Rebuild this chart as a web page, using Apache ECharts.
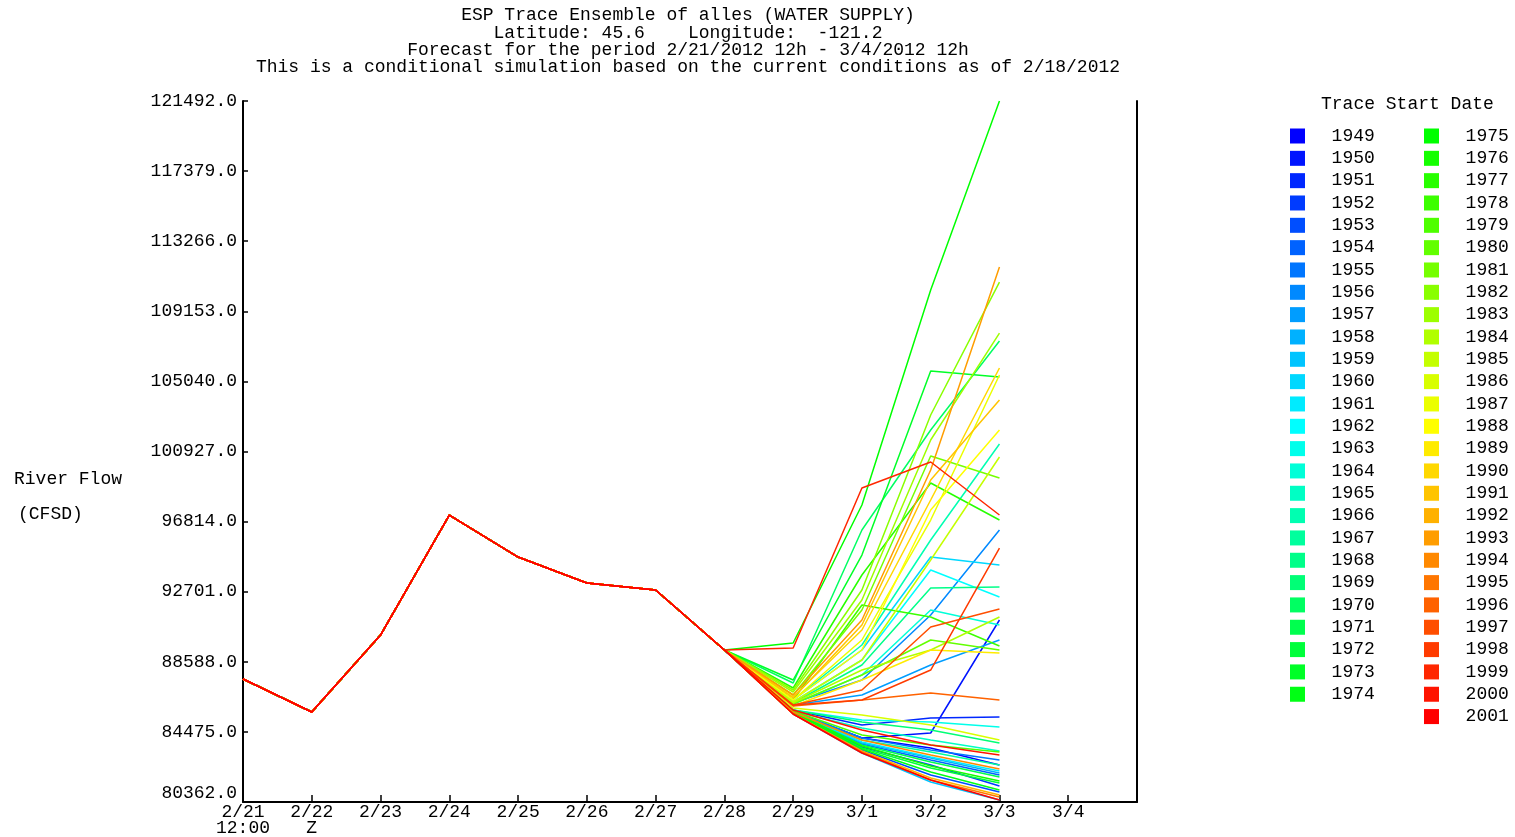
<!DOCTYPE html>
<html>
<head>
<meta charset="utf-8">
<script src="https://cdn.jsdelivr.net/npm/echarts@6/dist/echarts.min.js"></script>
<style>html,body{margin:0;padding:0;background:#fff}#c{width:1515px;height:837px}</style>
</head>
<body>
<div id="c"></div>
<script>
// ---- data ----
const dates = ['2/21','2/22','2/23','2/24','2/25','2/26','2/27','2/28','2/29','3/1','3/2','3/3','3/4'];
const dateSub = ['12:00','Z'];
const yTicks = [80362, 84475, 88588, 92701, 96814, 100927, 105040, 109153, 113266, 117379, 121492];
// observed / common part 2/21 .. 2/28
const observed = [87579, 85642, 90160, 97200, 94736, 93211, 92800, 89280];
const years = [1949,1950,1951,1952,1953,1954,1955,1956,1957,1958,1959,1960,1961,1962,1963,1964,1965,1966,1967,1968,1969,1970,1971,1972,1973,1974,1975,1976,1977,1978,1979,1980,1981,1982,1983,1984,1985,1986,1987,1988,1989,1990,1991,1992,1993,1994,1995,1996,1997,1998,1999,2000,2001];
// trace values at 2/29, 3/1, 3/2, 3/3
const forecast = [
  [85642, 84117, 83530, 82533], // 1949
  [85642, 84117, 84410, 91040], // 1950
  [85760, 84880, 85290, 85349], // 1951
  [85584, 83589, 82533, 81301], // 1952
  [85584, 83413, 81946, 80949], // 1953
  [85642, 83765, 82826, 81946], // 1954
  [85701, 84117, 83413, 82826], // 1955
  [86170, 87520, 91333, 96320], // 1956
  [86053, 86640, 88400, 89867], // 1957
  [85642, 83824, 82943, 82063], // 1958
  [85525, 83237, 81535, 80479], // 1959
  [86346, 89280, 94736, 94267], // 1960
  [85642, 83882, 83002, 82181], // 1961
  [86229, 88693, 93973, 92389], // 1962
  [85760, 85173, 85056, 84762], // 1963
  [86112, 87813, 91626, 90747], // 1964
  [85701, 84704, 84000, 83354], // 1965
  [86346, 89573, 95734, 101366], // 1966
  [85642, 84000, 83296, 82533], // 1967
  [86170, 88400, 92917, 92976], // 1968
  [85760, 85056, 84586, 83824], // 1969
  [87343, 96320, 102187, 107409], // 1970
  [85642, 83706, 82709, 81829], // 1971
  [85584, 83530, 82357, 81477], // 1972
  [87520, 94853, 105649, 105297], // 1973
  [85584, 83472, 82122, 81066], // 1974
  [89691, 97787, 110400, 121490], // 1975
  [85642, 83648, 82474, 81594], // 1976
  [87050, 93680, 99078, 96907], // 1977
  [86346, 91920, 91216, 89515], // 1978
  [85701, 84293, 83706, 83296], // 1979
  [86112, 87813, 89867, 89280], // 1980
  [86640, 91626, 100662, 99371], // 1981
  [86933, 92800, 103067, 110870], // 1982
  [86816, 92213, 101600, 107878], // 1983
  [86170, 88106, 89280, 91216], // 1984
  [86229, 88693, 94560, 100603], // 1985
  [85877, 85466, 84880, 84000], // 1986
  [86346, 89867, 96907, 105414], // 1987
  [86346, 89280, 97493, 102187], // 1988
  [85994, 87520, 89280, 89104], // 1989
  [86522, 90453, 98080, 105825], // 1990
  [86464, 90746, 99254, 103947], // 1991
  [85525, 83354, 81770, 80773], // 1992
  [86640, 91040, 99840, 111750], // 1993
  [85642, 84000, 83119, 82298], // 1994
  [85525, 83296, 81653, 80655], // 1995
  [85994, 86346, 86757, 86346], // 1996
  [86053, 86933, 90629, 91685], // 1997
  [86053, 86346, 88106, 95264], // 1998
  [89397, 98784, 100310, 97200], // 1999
  [85760, 84586, 83706, 83119], // 2000
  [85525, 83237, 81653, 80479]  // 2001
];

// ---- styling helpers ----
function hueHex(h) {
  const f = (n) => {
    const k = (n + h / 30) % 12;
    const c = 0.5 - 0.5 * Math.max(-1, Math.min(k - 3, 9 - k, 1));
    return Math.round(c * 255).toString(16).padStart(2, '0');
  };
  return '#' + f(0) + f(8) + f(4);
}
const FONT = '"Liberation Mono", "DejaVu Sans Mono", monospace';
const first = years[0], last = years[years.length - 1];

const series = years.map((yr, i) => ({
  name: String(yr),
  type: 'line',
  symbol: 'none',
  smooth: false,
  silent: true,
  color: hueHex(240 * (last - yr) / (last - first)),
  lineStyle: { width: 1.5 },
  data: observed.concat(forecast[i]).map((v, j) => [j, v])
}));

const half = years.indexOf(1975);
const legendBase = {
  orient: 'vertical',
  icon: 'rect',
  itemWidth: 15,
  itemHeight: 15,
  itemGap: 4.33,
  top: 127,
  padding: 0,
  selectedMode: false,
  formatter: (n) => '  ' + n,
  textStyle: { fontFamily: FONT, fontSize: 18, color: '#000', lineHeight: 18 }
};

const chart = echarts.init(document.getElementById('c'), null, { renderer: 'canvas' });
chart.setOption({
  animation: false,
  backgroundColor: '#fff',
  grid: { left: 243, right: 378, top: 101, bottom: 35, containLabel: false },
  legend: [
    Object.assign({}, legendBase, { left: 1290, data: years.slice(0, half).map(String) }),
    Object.assign({}, legendBase, { left: 1424, data: years.slice(half).map(String) })
  ],
  xAxis: {
    type: 'value', min: 0, max: 13, interval: 1,
    axisLine: { show: true, lineStyle: { color: '#000', width: 2 } },
    axisTick: { show: true, inside: true, length: 7, lineStyle: { color: '#000', width: 1.5 } },
    splitLine: { show: false },
    axisLabel: {
      margin: 2, fontFamily: FONT, fontSize: 18, color: '#000', lineHeight: 16,
      formatter: (v) => {
        const i = Math.round(v);
        if (i >= dates.length) return '';
        return dateSub[i] ? dates[i] + '\n' + dateSub[i] : dates[i];
      }
    }
  },
  yAxis: [
    {
      type: 'value', min: yTicks[0], max: yTicks[yTicks.length - 1],
      axisLine: { show: true, lineStyle: { color: '#000', width: 2 } },
      axisTick: { show: true, inside: true, length: 5, customValues: yTicks, lineStyle: { color: '#000', width: 1.5 } },
      splitLine: { show: false },
      axisLabel: {
        customValues: yTicks, margin: 6, fontFamily: FONT, fontSize: 18, color: '#000',
        verticalAlignMinLabel: 'bottom',
        formatter: (v) => v.toFixed(1)
      }
    },
    {
      type: 'value', position: 'right', min: yTicks[0], max: yTicks[yTicks.length - 1],
      axisLine: { show: true, lineStyle: { color: '#000', width: 2 } },
      axisTick: { show: false }, axisLabel: { show: false }, splitLine: { show: false }
    }
  ],
  graphic: [
    { type: 'text', x: 688, y: 15, style: { text: 'ESP Trace Ensemble of alles (WATER SUPPLY)', font: '18px ' + FONT, fill: '#000', align: 'center', verticalAlign: 'middle' } },
    { type: 'text', x: 688, y: 33, style: { text: 'Latitude: 45.6    Longitude:  -121.2', font: '18px ' + FONT, fill: '#000', align: 'center', verticalAlign: 'middle' } },
    { type: 'text', x: 688, y: 50, style: { text: 'Forecast for the period 2/21/2012 12h - 3/4/2012 12h', font: '18px ' + FONT, fill: '#000', align: 'center', verticalAlign: 'middle' } },
    { type: 'text', x: 688, y: 67, style: { text: 'This is a conditional simulation based on the current conditions as of 2/18/2012', font: '18px ' + FONT, fill: '#000', align: 'center', verticalAlign: 'middle' } },
    { type: 'text', x: 14, y: 479, style: { text: 'River Flow', font: '18px ' + FONT, fill: '#000', align: 'left', verticalAlign: 'middle' } },
    { type: 'text', x: 18, y: 514, style: { text: '(CFSD)', font: '18px ' + FONT, fill: '#000', align: 'left', verticalAlign: 'middle' } },
    { type: 'text', x: 1321, y: 104, style: { text: 'Trace Start Date', font: '18px ' + FONT, fill: '#000', align: 'left', verticalAlign: 'middle' } }
  ],
  series: series
});
</script>
</body>
</html>
